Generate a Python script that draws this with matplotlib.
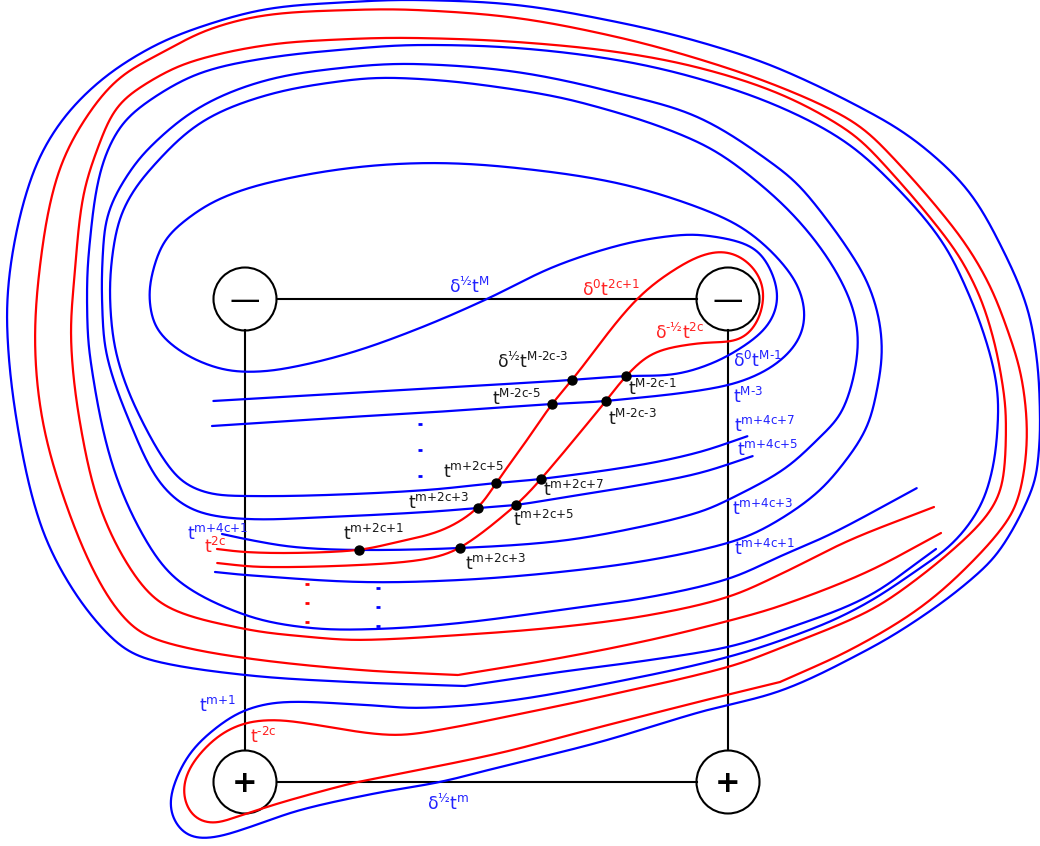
import numpy as np
from matplotlib import pyplot as plt
from matplotlib.patches import Circle

plt.rcParams['font.family'] = ['DejaVu Sans']
plt.rcParams['mathtext.fontset'] = 'dejavusans'
plt.rcParams['mathtext.default'] = 'regular'

# strands, pixel coordinates
blue_outer = [(936,549),(867,597),(783,630),(728,647),(650,660),(560,672),(465,686)]
blue_outer2 = [(465,686),(350,682),(245,675),(150,660),(117,643),(73,590),(40,523),(17,423),(7,323),
               (13,250),(33,173),(60,123),(100,81),(150,48),(200,27),(267,9),(350,2),(417,0),(517,5),(617,22),(700,42),
               (780,69),(880,118),(927,150),(970,193),(1003,250),(1027,307),(1037,360),(1040,413),(1039,450),(1033,487),
               (1000,550),(967,583),(917,620),(867,650),(783,690),(700,712),(600,742),
               (500,767),(440,782),(377,793),(300,810),(250,827),(217,837),(193,838),(180,830),(170,810),
               (173,787),(190,753),(217,727),(245,710),(283,702),(367,705),(417,708),(500,702),
               (600,685),(728,657),(817,627),(867,603),(913,573),(953,543),(980,507),(993,467),
               (998,420),(997,387),(988,347),(970,297),(943,243),(900,191),(847,143),(780,107),
               (700,79),(617,60),(517,48),(417,45),
               (350,49),(267,58),(200,73),(150,100),(120,127),(100,173),(89,250),(87,300),(90,357),(110,457),
               (140,530),(177,580),(245,615),(310,628),(377,629),(460,623),(560,610),(650,597),(728,579),
               (783,555),(833,533),(917,488)]
blue_spiral_a = [(215,572),(245,575),(360,582),(460,580),(560,572),(650,560),(728,543),(767,527),(817,493),
                 (850,455),(867,427),(875,400),(882,353),(877,310),(860,268),(810,198),(780,169),(700,118),(617,93),(517,72),(417,64),
                 (350,67),(267,80),(200,107),(147,150),(120,187),(107,217),(103,250),(102,300),(107,357),(133,430),(160,483),
                 (193,510),(245,519),(327,517),(427,512),(478,508),(516,505),(560,498),(640,485),(700,473),
                 (753,456)]
blue_spiral_b = [(222,534),(245,539),(293,547),(359,550),(460,548),(560,541),(640,527),(700,512),(728,500),(783,470),
                 (817,440),(843,410),(858,347),(850,300),(817,243),(767,190),(700,143),(583,103),(483,85),(400,78),
                 (350,80),(267,95),(200,123),(147,173),(123,210),(113,250),(110,300),(117,357),(140,417),(177,477),
                 (207,493),(245,496),(327,495),(427,490),(496,483),(541,479),(640,465),(700,452),
                 (748,436)]
blue_inner = [(212,426),(350,417),(420,413),(552,404),(606,401),(720,387),(767,370),(797,343),(805,313),(793,277),
              (750,233),(700,208),(617,183),(517,168),(433,163),(350,168),(267,183),(217,200),(183,222),
              (163,243),(150,283),(150,307),(157,330),(183,353),(217,368),(245,372),(283,369),(350,353),(420,328),
              (487,299),(553,267),(620,245),(670,236),(703,235),(753,247),(771,270),(778,300),(767,327),(733,353),
              (700,368),(670,375),(626,376),(572,380),(420,389),(350,393),(213,401)]

red_outer = [(941,533),(867,572),(783,605),(728,621),(650,640),(560,658),(458,675)]
red_outer2 = [(458,675),(360,670),(245,658),(167,643),(133,627),(100,583),(67,507),(43,423),(35,340),
              (42,250),(57,177),(80,127),(117,80),(165,51),(210,29),(267,15),(350,10),(417,10),(517,18),(617,37),
              (702,60),(780,87),(847,118),(880,144),(953,227),(987,280),(1010,337),(1022,380),
              (1027,433),(1022,483),(1010,517),(967,567),
              (917,610),(850,650),(780,682)]
red_lower = [(780,682),(710,699),(600,727),(500,753),(383,777),(357,782),(283,802),(233,818),(213,824),
             (193,817),(183,793),(190,767),(217,737),(245,723),(277,720),(317,725),(367,733),(403,735),(450,728),
             (500,718),(600,697),(728,667),(783,647),(867,612),(913,582),(967,537),(993,507),(1003,480),
             (1006,420),(1003,387),(993,337),(977,290),(950,243),(880,160),(847,130),(780,94),
             (700,68),(617,52),(517,42),(417,38),
             (350,39),(267,45),(190,62),(147,83),(117,107),(97,150),(83,197),(75,270),(71,340),(80,423),(100,507),
             (133,573),(167,607),(245,629),(310,637),(360,640),(460,635),(560,627),(650,615),(728,597),
             (783,573),(850,540),(934,507)]
red_hook = [(217,549),(243,552),(293,553),(359,550),(393,543),(443,530),(478,508),(496,483),(527,440),(552,404),
            (572,380),(637,299),(687,262),(720,251),(743,258),(760,277),(764,297),(757,323),(740,340),(700,343),
            (653,353),(626,376),(606,401),(541,479),(516,505),(460,548),(427,559),(360,565),(260,567),
            (217,563)]

blue_strands = [blue_outer, blue_outer2, blue_spiral_a, blue_spiral_b, blue_inner]
red_strands = [red_outer, red_outer2, red_lower, red_hook]

# crossing dots
dot_x = [572,626,552,606,496,541,478,516,359,460]
dot_y = [380,376,404,401,483,479,508,505,550,548]

# the little ellipsis marks
blue_dash_x = [420,420,420,378,378,378]
blue_dash_y = [424,450,476,588,607,626]
red_dash_x = [307,307,307]
red_dash_y = [584,603,622]

# square with the signs
node_x = [245,728,245,728]
node_y = [299,299,782,782]
node_sign = ['—','—','+','+']

H = '\u2010'  # plain hyphen, mathtext would turn - into a long minus
P = '{+}'
label_text = ['δ$^{½}$t$^{M}$','δ$^{0}$t$^{2c' + P + '1}$','δ$^{' + H + '½}$t$^{2c}$',
              'δ$^{½}$t$^{M' + H + '2c' + H + '3}$','t$^{M' + H + '2c' + H + '5}$',
              't$^{M' + H + '2c' + H + '1}$','t$^{M' + H + '2c' + H + '3}$','δ$^{0}$t$^{M' + H + '1}$','t$^{M' + H + '3}$',
              't$^{m' + P + '4c' + P + '7}$','t$^{m' + P + '4c' + P + '5}$',
              't$^{m' + P + '4c' + P + '3}$','t$^{m' + P + '4c' + P + '1}$','t$^{m' + P + '2c' + P + '5}$',
              't$^{m' + P + '2c' + P + '7}$','t$^{m' + P + '2c' + P + '3}$','t$^{m' + P + '2c' + P + '5}$',
              't$^{m' + P + '2c' + P + '1}$','t$^{m' + P + '2c' + P + '3}$','t$^{m' + P + '4c' + P + '1}$',
              't$^{2c}$','t$^{m' + P + '1}$','t$^{' + H + '2c}$','δ$^{½}$t$^{m}$']
label_x = [449,582,655,497,492,628,608,733,733,734,737,732,734,443,543,408,513,343,465,187,204,199,250,427]
label_y = [293,296,339,368,405,395,425,367,403,432,456,515,555,478,496,509,526,540,570,540,553,712,743,810]
label_color = ['#2222ff','#ff2222','#ff2222','#1a1a1a','#1a1a1a','#1a1a1a','#1a1a1a','#2222ff','#2222ff','#2222ff',
               '#2222ff','#2222ff','#2222ff','#1a1a1a','#1a1a1a','#1a1a1a','#1a1a1a','#1a1a1a','#1a1a1a','#2222ff',
               '#ff2222','#2222ff','#ff2222','#2222ff']


def smooth(ax, pts, color, sigma=10):
    # hermite spline through the traced points, then a small gaussian along the arc to take out hand wobble
    p = np.array(pts, dtype=float)
    d = np.hypot(*np.diff(p, axis=0).T)
    tan = np.zeros_like(p)
    tan[1:-1] = (p[2:] - p[:-2]) / (d[:-1] + d[1:])[:, None]
    tan[0] = (p[1] - p[0]) / d[0]
    tan[-1] = (p[-1] - p[-2]) / d[-1]
    dense = []
    for i in range(len(p) - 1):
        u = np.linspace(0, 1, int(d[i]) + 2)[:-1, None]
        a, b = p[i] + tan[i] * d[i] / 3, p[i+1] - tan[i+1] * d[i] / 3
        dense.append((1-u)**3 * p[i] + 3*(1-u)**2*u * a + 3*(1-u)*u**2 * b + u**3 * p[i+1])
    dense.append(p[-1:])
    dense = np.vstack(dense)
    # resample by arc length
    s = np.r_[0, np.cumsum(np.hypot(*np.diff(dense, axis=0).T))]
    t = np.arange(0, s[-1], 1.0)
    xy = np.c_[np.interp(t, s, dense[:, 0]), np.interp(t, s, dense[:, 1])]
    # odd reflection keeps the end points where they are
    n = int(4 * sigma)
    kern = np.exp(-0.5 * (np.arange(-n, n + 1) / sigma) ** 2)
    kern /= kern.sum()
    out = []
    for k in range(2):
        c = xy[:, k]
        pad = np.r_[2*c[0] - c[n:0:-1], c, 2*c[-1] - c[-2:-n-2:-1]]
        out.append(np.convolve(pad, kern, mode='valid'))
    ax.plot(out[0], out[1], color=color, lw=1.6, solid_capstyle='round')


fig = plt.figure(figsize=(10.4, 8.46), dpi=100)
ax = fig.add_axes([0, 0, 1, 1])
ax.set_xlim(0, 1040)
ax.set_ylim(846, 0)
ax.axis('off')

# black square
ax.plot([277, 697], [299, 299], color='black', lw=1.5)
ax.plot([277, 697], [782, 782], color='black', lw=1.5)
ax.plot([245, 245], [330, 750], color='black', lw=1.5)
ax.plot([728, 728], [330, 750], color='black', lw=1.5)

for s in blue_strands:
    smooth(ax, s, 'blue')
for s in red_strands:
    smooth(ax, s, 'red')

for x, y, sign in zip(node_x, node_y, node_sign):
    ax.add_patch(Circle((x, y), 31.5, facecolor='none', edgecolor='black', lw=1.5))
    ax.text(x, y + 1, sign, ha='center', va='center', fontsize=22, color='black',
            fontweight='bold' if sign == '+' else 'normal')

ax.scatter(dot_x, dot_y, s=42, color='black', zorder=5)
ax.plot(blue_dash_x, blue_dash_y, ls='none', marker='_', ms=3.5, mew=2, color='blue')
ax.plot(red_dash_x, red_dash_y, ls='none', marker='_', ms=3.5, mew=2, color='red')

for t, x, y, c in zip(label_text, label_x, label_y, label_color):
    ax.text(x, y, t, ha='left', va='baseline', fontsize=12.3, color=c, zorder=6)

plt.savefig('out.png', dpi=100)
